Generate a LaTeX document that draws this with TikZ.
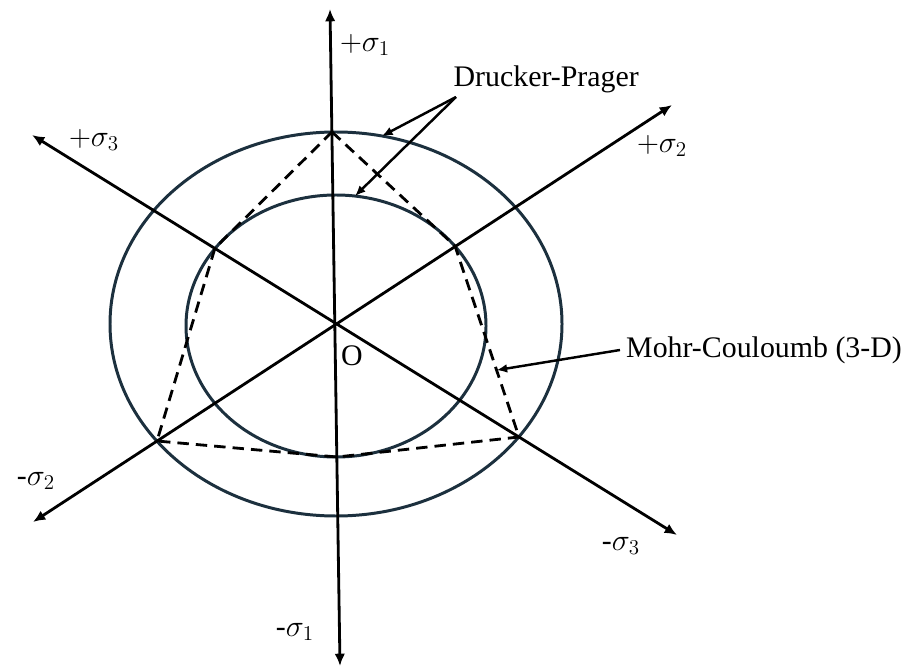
\documentclass[tikz,border=0pt]{standalone}
\usepackage{fontspec}
\setmainfont{Liberation Serif}
\usepackage{tikz}
\usetikzlibrary{arrows.meta,calc}
\definecolor{mcnavy}{RGB}{28,48,62}

\begin{document}
\begin{tikzpicture}[x=.02cm,y=-.02cm,font=\fontsize{17}{20}\selectfont,
    axis/.style={line width=1.6pt,{Latex[length=7pt,width=6pt]}-{Latex[length=7pt,width=6pt]}},
    yield/.style={mcnavy,line width=1.7pt},
    hexline/.style={line width=1.6pt,dash pattern=on 6.5pt off 4pt},
    pointer/.style={line width=1.4pt,-{Latex[length=6pt,width=5pt]}}]
    \useasboundingbox (0,0) rectangle (915,668);
    % axis ends
    \coordinate (O) at (334,323);
    \coordinate (s1p) at (330,9);   \coordinate (s1m) at (340,666);
    \coordinate (s2p) at (672,105); \coordinate (s2m) at (33,522);
    \coordinate (s3p) at (32,135);  \coordinate (s3m) at (677,535);
    % yield surfaces
    \draw[yield] (336,324) ellipse [x radius=226,y radius=192];
    \draw[yield] (336,326) ellipse [x radius=150,y radius=131];
    % Mohr-Coulomb hexagon
    \coordinate (v1) at (332,132); \coordinate (v2) at (455,246);
    \coordinate (v3) at (519,437); \coordinate (v4) at (337,457);
    \coordinate (v5) at (157,441); \coordinate (v6) at (215,248);
    \draw[hexline] (v1)--(v2)--(v3)--(v4)--(v5)--(v6)--cycle;
    \draw[axis] (s1m)--(s1p);
    \draw[axis] (s2m)--(s2p);
    \draw[axis] (s3m)--(s3p);
    \node (l1p) at (365,45) {$+\sigma_1$};
    \node (l1m) at (295,632) {-$\sigma_1$};
    \node (l2p) at (662,146) {$+\sigma_2$};
    \node (l2m) at (36,481) {-$\sigma_2$};
    \node (l3p) at (94,140) {$+\sigma_3$};
    \node (l3m) at (621,546) {-$\sigma_3$};
    \node (olab) at (352,356) {O};
    % labels with pointers
    \node[anchor=base east] (dp) at (645,87) {Drucker-Prager};
    \coordinate (dpfoot) at (456,97);
    \coordinate (dpout) at (382,136); \coordinate (dpin) at (355,196);
    \draw[pointer] (dpfoot)--(dpout);
    \draw[pointer] (dpfoot)--(dpin);
    \node[anchor=west] (mc) at (620,350) {Mohr-Couloumb (3-D)};
    \coordinate (mctip) at ($(v2)!.65!(v3)$);
    \draw[pointer] (mc.west)--(mctip);
\end{tikzpicture}
\end{document}
